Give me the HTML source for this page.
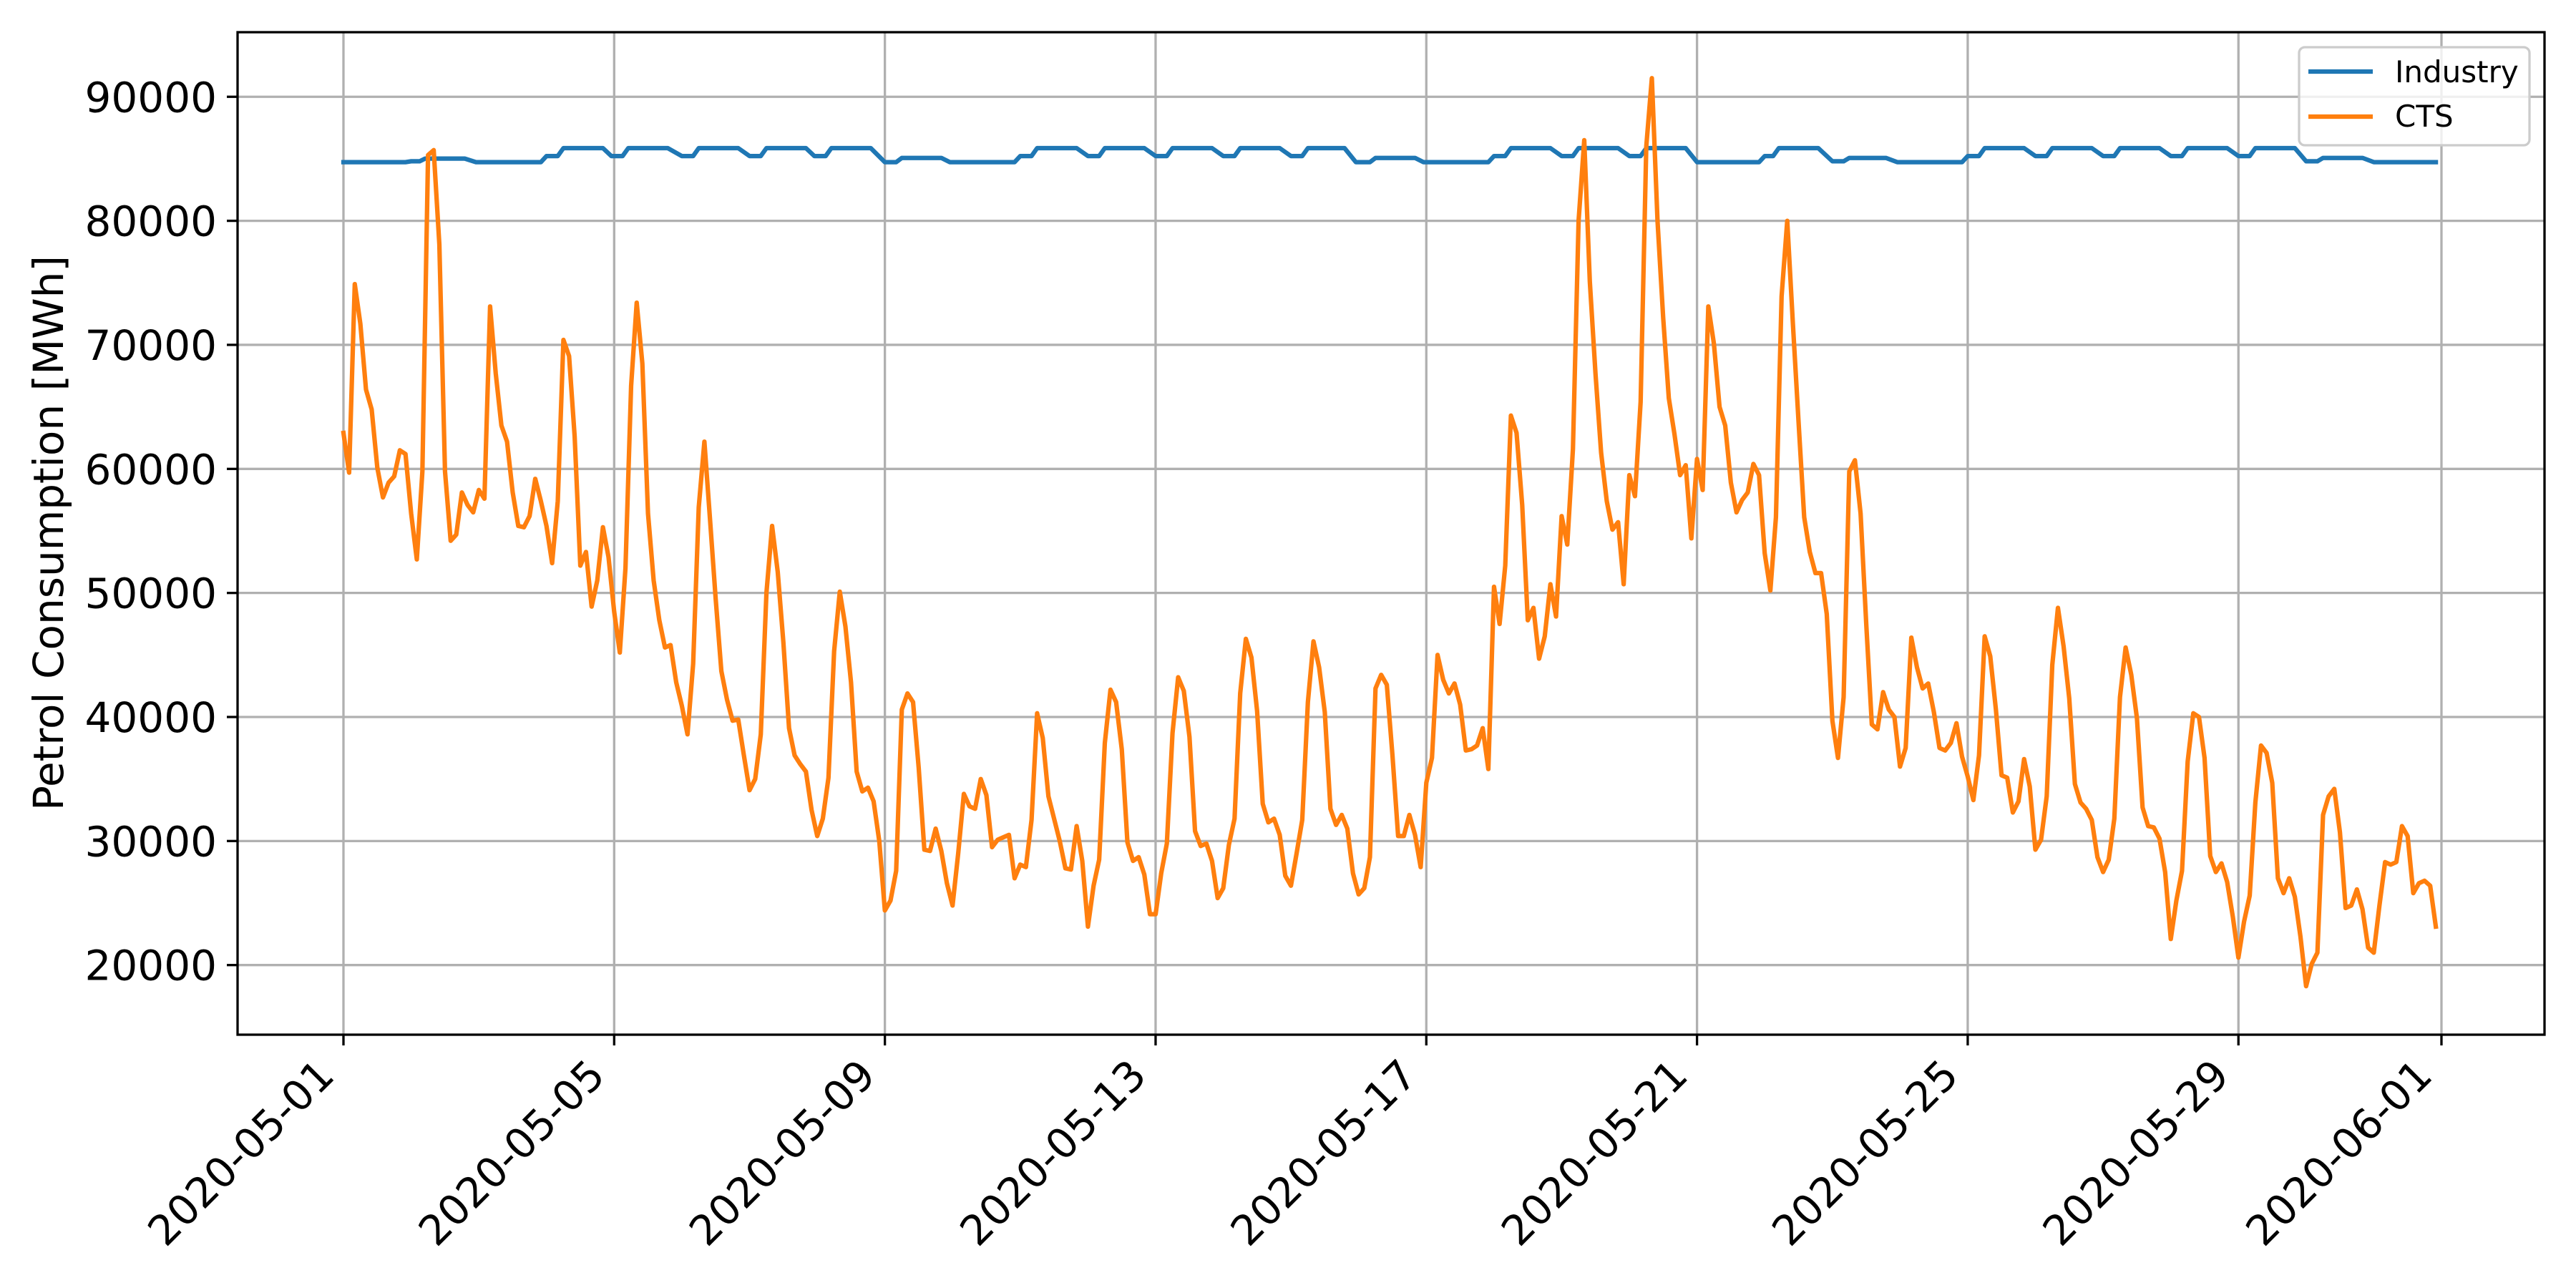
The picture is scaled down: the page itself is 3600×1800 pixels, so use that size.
<!DOCTYPE html>
<html>
<head>
<meta charset="utf-8">
<style>
html,body{margin:0;padding:0;background:#fff;}
svg{display:block;font-family:"DejaVu Sans","Liberation Sans",sans-serif;}
</style>
</head>
<body>
<svg id="chart" xmlns="http://www.w3.org/2000/svg" width="3600" height="1800" viewBox="0 0 3600 1800">
  <rect x="0" y="0" width="3600" height="1800" fill="#fff"/>
  <g id="grid"></g>
  <g id="series"></g>
  <rect x="332" y="45" width="3224" height="1401" fill="none" stroke="#000" stroke-width="3.3"/>
  <g id="ticks"></g>
  <text x="88" y="745" font-size="58" text-anchor="middle" transform="rotate(-90 88 745)">Petrol Consumption [MWh]</text>
  <g>
    <rect x="3213" y="66" width="322" height="137" rx="8" ry="8" fill="#fff" fill-opacity="0.8" stroke="#cccccc" stroke-width="3.3"/>
    <line x1="3226" y1="100" x2="3316" y2="100" stroke="#1f77b4" stroke-width="6.25"/>
    <text x="3347" y="115" font-size="42">Industry</text>
    <line x1="3226" y1="163" x2="3316" y2="163" stroke="#ff7f0e" stroke-width="6.25"/>
    <text x="3347" y="177" font-size="42">CTS</text>
  </g>
</svg>
<script>
const yTicks = [20000,30000,40000,50000,60000,70000,80000,90000];
const xTickDays = [0,4,8,12,16,20,24,28,31];
const xTickLabels = ["2020-05-01","2020-05-05","2020-05-09","2020-05-13","2020-05-17","2020-05-21","2020-05-25","2020-05-29","2020-06-01"];
const stepHours = 2;
const ctsValues = [
62900,59700,74900,71700,66400,64800,60100,57700,58900,59400,61500,61200,
56400,52700,59800,85300,85700,78100,59800,54200,54700,58100,57100,56500,
58300,57600,73100,67700,63500,62200,58100,55400,55300,56200,59200,57400,
55400,52400,57400,70400,69100,62600,52200,53300,48900,51000,55300,52900,
48500,45200,52000,66700,73400,68500,56400,51000,47800,45600,45800,42800,
40900,38600,44300,56900,62200,55900,49500,43700,41400,39700,39800,36900,
34100,35000,38600,50000,55400,51700,46000,39100,36900,36200,35600,32500,
30400,31800,35100,45300,50100,47300,42800,35600,34000,34300,33200,30000,
24400,25200,27600,40600,41900,41200,35900,29300,29200,31000,29200,26600,
24800,29000,33800,32800,32600,35000,33700,29500,30100,30300,30500,27000,
28100,27900,31700,40300,38300,33600,31800,30000,27800,27700,31200,28400,
23100,26400,28500,37900,42200,41200,37400,29900,28400,28700,27300,24100,
24100,27400,29800,38700,43200,42100,38400,30800,29600,29800,28400,25400,
26200,29700,31800,41900,46300,44800,40500,33000,31500,31800,30500,27200,
26400,29000,31700,41200,46100,44000,40400,32600,31300,32100,31000,27400,
25700,26200,28700,42300,43400,42600,36900,30400,30400,32100,30500,27900,
34700,36700,45000,43000,41900,42700,41000,37300,37400,37700,39100,35800,
50500,47500,52200,64300,62900,57100,47800,48800,44700,46500,50700,48100,
56200,53900,61600,80000,86500,75100,67700,61300,57400,55100,55700,50700,
59500,57800,65400,86000,91500,80000,72200,65700,62800,59500,60300,54400,
60800,58300,73100,70100,65000,63500,58900,56500,57500,58100,60400,59500,
53200,50200,56100,73900,80000,71700,63800,56100,53300,51600,51600,48300,
39700,36700,41600,59800,60700,56400,47500,39400,39000,42000,40600,40000,
36000,37500,46400,44000,42300,42700,40400,37500,37300,37900,39500,36800,
35200,33300,36900,46500,44900,40600,35300,35100,32300,33200,36600,34400,
29300,30100,33600,44200,48800,45700,41500,34600,33100,32600,31700,28700,
27500,28500,31800,41600,45600,43400,39900,32700,31200,31100,30200,27500,
22100,25200,27600,36400,40300,40000,36700,28800,27500,28200,26700,23900,
20600,23500,25600,33100,37700,37100,34700,27000,25800,27000,25500,22300,
18300,20100,21000,32100,33600,34200,30700,24600,24800,26100,24500,21400,
21000,24800,28300,28100,28300,31200,30400,25800,26600,26800,26400,23100
];
const industryHours = [0,22,24,27,29,43,47,70,72,76,78,92,95,99,101,115,120,124,126,140,144,148,150,164,167,171,173,187,192,196,198,212,215,238,240,244,246,260,264,268,270,284,288,292,294,308,312,316,318,332,336,340,342,355,359,364,366,380,383,406,408,412,414,428,432,436,438,452,456,460,462,476,480,502,504,507,509,523,528,532,534,547,551,574,576,580,582,596,600,604,606,620,624,628,630,644,648,652,654,668,672,676,678,692,696,700,702,716,720,742];
const industryValues = [84730,84730,84800,84800,85020,85020,84730,84730,85220,85220,85860,85860,85220,85220,85860,85860,85220,85220,85860,85860,85220,85220,85860,85860,85220,85220,85860,85860,84730,84730,85070,85070,84730,84730,85220,85220,85860,85860,85220,85220,85860,85860,85220,85220,85860,85860,85220,85220,85860,85860,85220,85220,85860,85860,84730,84730,85070,85070,84730,84730,85220,85220,85860,85860,85220,85220,85860,85860,85220,85220,85860,85860,84730,84730,85220,85220,85860,85860,84800,84800,85070,85070,84730,84730,85220,85220,85860,85860,85220,85220,85860,85860,85220,85220,85860,85860,85220,85220,85860,85860,85220,85220,85860,85860,84800,84800,85070,85070,84730,84730];

const NS = "http://www.w3.org/2000/svg";
const X0 = 480, PX_PER_DAY = 94.58;
const Y_REF = 1348.7, PX_PER_UNIT = 173.35/10000;
function xScale(hours){ return X0 + hours/24*PX_PER_DAY; }
function yScale(v){ return Y_REF - (v-20000)*PX_PER_UNIT; }
function mk(tag, attrs, parent){
  const el = document.createElementNS(NS, tag);
  for (const k in attrs) el.setAttribute(k, attrs[k]);
  parent.appendChild(el);
  return el;
}
const grid = document.getElementById('grid');
const ticks = document.getElementById('ticks');
const series = document.getElementById('series');

yTicks.forEach(function(v){
  const y = yScale(v);
  const g = mk('line', {x1:332, x2:3556, y1:y, y2:y, stroke:'#b0b0b0', 'stroke-width':3.3}, grid);
  
  
  const t = mk('line', {x1:317, x2:332, y1:y, y2:y, stroke:'#000', 'stroke-width':3.3}, ticks);
  
  
  const lab = mk('text', {x:303, y:y+21, 'font-size':58, 'text-anchor':'end'}, ticks);
  lab.textContent = String(v);
  
  
});

xTickDays.forEach(function(d, i){
  const x = xScale(d*24);
  const g = mk('line', {x1:x, x2:x, y1:45, y2:1446, stroke:'#b0b0b0', 'stroke-width':3.3}, grid);
  
  
  const t = mk('line', {x1:x, x2:x, y1:1446, y2:1461, stroke:'#000', 'stroke-width':3.3}, ticks);
  
  
  const ax = x - 10, ay = 1506;
  const lab = mk('text', {x:ax, y:ay, 'font-size':58, 'text-anchor':'end', transform:'rotate(-45 '+ax+' '+ay+')'}, ticks);
  lab.textContent = xTickLabels[i];
  
  
});

let indPts = industryHours.map(function(h, i){ return xScale(h).toFixed(1)+','+yScale(industryValues[i]).toFixed(1); }).join(' ');
const ind = mk('polyline', {points:indPts, fill:'none', stroke:'#1f77b4', 'stroke-width':6.25, 'stroke-linejoin':'round', 'stroke-linecap':'square'}, series);



let ctsPts = ctsValues.map(function(v, i){ return xScale(i*stepHours).toFixed(1)+','+yScale(v).toFixed(1); }).join(' ');
const cts = mk('polyline', {points:ctsPts, fill:'none', stroke:'#ff7f0e', 'stroke-width':6.25, 'stroke-linejoin':'round', 'stroke-linecap':'square'}, series);


</script>
</body>
</html>
